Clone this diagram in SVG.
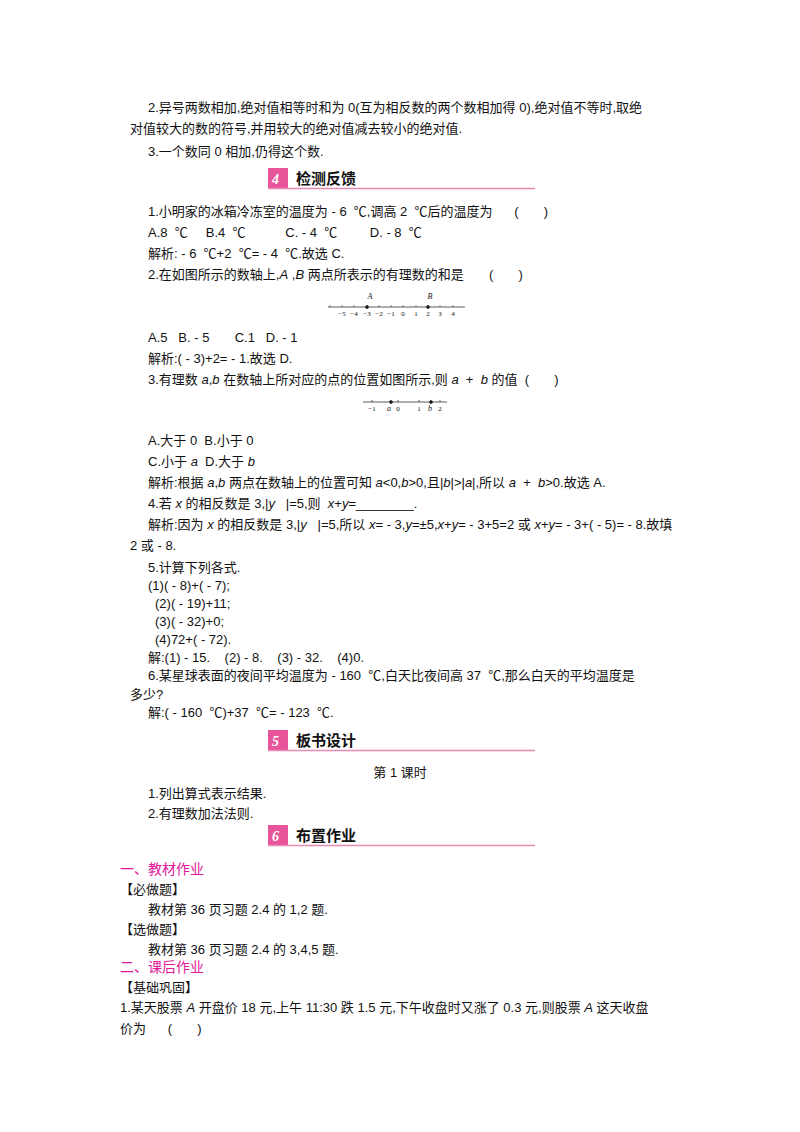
<svg xmlns="http://www.w3.org/2000/svg" width="800" height="1132" viewBox="0 0 800 1132" xml:space="preserve">
<style>
text{font-family:"Liberation Sans","Noto Sans CJK SC",sans-serif;font-size:13px;fill:#111;white-space:pre}
.h{font-size:15px;font-weight:bold}
.n{font-family:"Liberation Serif",serif;font-style:italic;font-size:14px;fill:#fff;font-weight:bold}
.m{fill:#e0189a;font-size:14px}
.s{font-size:7px;font-family:"Liberation Serif",serif}
.sl{font-size:8px;font-family:"Liberation Serif",serif;font-style:italic}
</style>
<rect width="800" height="1132" fill="#fff"/>
<text x="148" y="112">2.异号两数相加,绝对值相等时和为 0(互为相反数的两个数相加得 0),绝对值不等时,取绝</text>
<text x="130" y="133">对值较大的数的符号,并用较大的绝对值减去较小的绝对值.</text>
<text x="148" y="156">3.一个数同 0 相加,仍得这个数.</text>
<g id="h4"><rect x="268" y="168" width="20" height="20" fill="#e8559a"/><text class="n" x="272" y="184">4</text><text class="h" x="296" y="184">检测反馈</text><line x1="268" y1="188.5" x2="535" y2="188.5" stroke="#e88ab5" stroke-width="1.5"/></g>
<text x="148" y="216">1.小明家的冰箱冷冻室的温度为 - 6  ℃,调高 2  ℃后的温度为      (       )</text>
<text x="148" y="237">A.8  ℃     B.4  ℃           C. - 4  ℃         D. - 8  ℃</text>
<text x="148" y="258">解析: - 6  ℃+2  ℃= - 4  ℃.故选 C.</text>
<text x="148" y="279">2.在如图所示的数轴上,<tspan font-style="italic">A</tspan> ,<tspan font-style="italic">B</tspan> 两点所表示的有理数的和是       (       )</text>
<g id="nl1" stroke="#333" stroke-width="0.8">
<line x1="328" y1="307" x2="465" y2="307"/>
<g stroke-width="0.6"><line x1="330" y1="305" x2="330" y2="307"/><line x1="342" y1="305" x2="342" y2="307"/><line x1="354" y1="305" x2="354" y2="307"/><line x1="367" y1="305" x2="367" y2="307"/><line x1="379" y1="305" x2="379" y2="307"/><line x1="391" y1="305" x2="391" y2="307"/><line x1="403" y1="305" x2="403" y2="307"/><line x1="416" y1="305" x2="416" y2="307"/><line x1="428" y1="305" x2="428" y2="307"/><line x1="440" y1="305" x2="440" y2="307"/><line x1="453" y1="305" x2="453" y2="307"/></g>
<circle cx="367" cy="307" r="1.5" fill="#111"/><circle cx="428" cy="307" r="1.5" fill="#111"/>
</g>
<g id="nl1t" text-anchor="middle"><text class="sl" x="370" y="299">A</text><text class="sl" x="430" y="299">B</text>
<text class="s" x="342" y="316">−5</text><text class="s" x="354" y="316">−4</text><text class="s" x="367" y="316">−3</text><text class="s" x="379" y="316">−2</text><text class="s" x="391" y="316">−1</text><text class="s" x="403" y="316">0</text><text class="s" x="416" y="316">1</text><text class="s" x="428" y="316">2</text><text class="s" x="440" y="316">3</text><text class="s" x="453" y="316">4</text></g>
<text x="148" y="342">A.5   B. - 5       C.1   D. - 1</text>
<text x="148" y="363">解析:( - 3)+2= - 1.故选 D.</text>
<text x="148" y="384">3.有理数 <tspan font-style="italic">a</tspan>,<tspan font-style="italic">b</tspan> 在数轴上所对应的点的位置如图所示,则 <tspan font-style="italic">a</tspan>  +  <tspan font-style="italic">b</tspan> 的值  (       )</text>
<g id="nl2" stroke="#333" stroke-width="0.8">
<line x1="363" y1="402" x2="447" y2="402"/>
<line x1="372" y1="400" x2="372" y2="402"/><line x1="398" y1="400" x2="398" y2="402"/><line x1="419" y1="400" x2="419" y2="402"/><line x1="440" y1="400" x2="440" y2="402"/>
<circle cx="391" cy="402" r="1.5" fill="#111"/><circle cx="431" cy="402" r="1.5" fill="#111"/>
</g>
<g text-anchor="middle"><text class="s" x="372" y="411">−1</text><text class="sl" x="389" y="411">a</text><text class="s" x="398" y="411">0</text><text class="s" x="419" y="411">1</text><text class="sl" x="430" y="411">b</text><text class="s" x="440" y="411">2</text></g>
<text x="148" y="445">A.大于 0  B.小于 0</text>
<text x="148" y="466">C.小于 <tspan font-style="italic">a</tspan>  D.大于 <tspan font-style="italic">b</tspan></text>
<text x="148" y="487">解析:根据 <tspan font-style="italic">a</tspan>,<tspan font-style="italic">b</tspan> 两点在数轴上的位置可知 <tspan font-style="italic">a</tspan>&lt;0,<tspan font-style="italic">b</tspan>&gt;0,且|<tspan font-style="italic">b</tspan>|&gt;|<tspan font-style="italic">a</tspan>|,所以 <tspan font-style="italic">a</tspan>  +  <tspan font-style="italic">b</tspan>&gt;0.故选 A.</text>
<text x="148" y="508">4.若 <tspan font-style="italic">x</tspan> 的相反数是 3,|<tspan font-style="italic">y</tspan>   |=5,则  <tspan font-style="italic">x</tspan>+<tspan font-style="italic">y</tspan>=________.</text>
<text x="148" y="529">解析:因为 <tspan font-style="italic">x</tspan> 的相反数是 3,|<tspan font-style="italic">y</tspan>   |=5,所以 <tspan font-style="italic">x</tspan>= - 3,<tspan font-style="italic">y</tspan>=±5,<tspan font-style="italic">x</tspan>+<tspan font-style="italic">y</tspan>= - 3+5=2 或 <tspan font-style="italic">x</tspan>+<tspan font-style="italic">y</tspan>= - 3+( - 5)= - 8.故填</text>
<text x="130" y="550">2 或 - 8.</text>
<text x="148" y="572">5.计算下列各式.</text>
<text x="148" y="590">(1)( - 8)+( - 7);</text>
<text x="155" y="608">(2)( - 19)+11;</text>
<text x="155" y="626">(3)( - 32)+0;</text>
<text x="155" y="644">(4)72+( - 72).</text>
<text x="148" y="662">解:(1) - 15.    (2) - 8.    (3) - 32.    (4)0.</text>
<text x="148" y="680">6.某星球表面的夜间平均温度为 - 160  ℃,白天比夜间高 37  ℃,那么白天的平均温度是</text>
<text x="130" y="699">多少?</text>
<text x="148" y="717">解:( - 160  ℃)+37  ℃= - 123  ℃.</text>
<g id="h5"><rect x="268" y="730" width="20" height="20" fill="#e8559a"/><text class="n" x="272" y="746">5</text><text class="h" x="296" y="746">板书设计</text><line x1="268" y1="750.5" x2="535" y2="750.5" stroke="#e88ab5" stroke-width="1.5"/></g>
<text x="400" y="777" text-anchor="middle">第 1 课时</text>
<text x="148" y="798">1.列出算式表示结果.</text>
<text x="148" y="818">2.有理数加法法则.</text>
<g id="h6"><rect x="268" y="825" width="20" height="20" fill="#e8559a"/><text class="n" x="272" y="841">6</text><text class="h" x="296" y="841">布置作业</text><line x1="268" y1="845.5" x2="535" y2="845.5" stroke="#e88ab5" stroke-width="1.5"/></g>
<text class="m" x="120" y="874">一、教材作业</text>
<text x="120" y="894">【必做题】</text>
<text x="148" y="914">教材第 36 页习题 2.4 的 1,2 题.</text>
<text x="120" y="934">【选做题】</text>
<text x="148" y="954">教材第 36 页习题 2.4 的 3,4,5 题.</text>
<text class="m" x="120" y="972">二、课后作业</text>
<text x="120" y="992">【基础巩固】</text>
<text x="120" y="1012">1.某天股票 <tspan font-style="italic">A</tspan> 开盘价 18 元,上午 11:30 跌 1.5 元,下午收盘时又涨了 0.3 元,则股票 <tspan font-style="italic">A</tspan> 这天收盘</text>
<text x="120" y="1033">价为      (       )</text>
</svg>
